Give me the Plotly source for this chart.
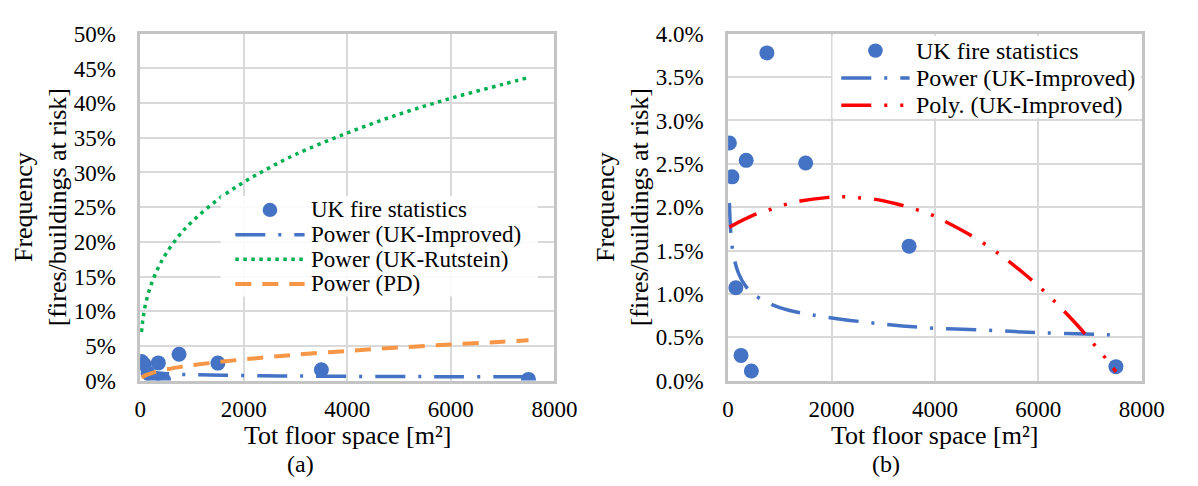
import plotly.graph_objects as go

# ---- observed fire statistics (total floor space in m², frequency as fraction) ----
floor_space = [25, 75, 150, 250, 350, 450, 750, 1500, 3500, 7500]
fire_freq = [0.0274, 0.0235, 0.0107, 0.0029, 0.0254, 0.0011, 0.0378, 0.0251, 0.0155, 0.0016]

# ---- trendline samples ----
# Power (UK-Improved)
improved_x = [25, 50, 100, 200, 350, 500, 1000, 1600, 2700, 3800, 5000, 6100, 7300, 7500]
improved_y = [0.0205, 0.0172, 0.0146, 0.0124, 0.0108, 0.0099, 0.0084, 0.0076,
              0.0067, 0.0061, 0.0058, 0.0055, 0.0053, 0.0052]

# Power (UK-Rutstein)
rutstein_x = [25, 50, 100, 200, 350, 500, 750, 1000, 1500, 2000, 2500, 3000,
              4000, 5000, 6000, 7000, 7500]
rutstein_y = [0.070, 0.087, 0.109, 0.136, 0.163, 0.183, 0.209, 0.229, 0.261, 0.286,
              0.307, 0.326, 0.357, 0.384, 0.407, 0.427, 0.437]

# Power (PD)
pd_x = [25, 100, 250, 500, 750, 1000, 1500, 2000, 2500, 3000, 4000, 5000, 6000, 7000, 7500]
pd_y = [0.0040, 0.0075, 0.0115, 0.0160, 0.0193, 0.0220, 0.0266, 0.0305, 0.0340,
        0.0372, 0.0427, 0.0476, 0.0520, 0.0560, 0.0580]

# Poly. (UK-Improved)
poly_x = [25, 500, 800, 1100, 1400, 1900, 2200, 2500, 2850, 3250, 3600, 3900, 4150,
          4650, 5100, 5350, 5750, 6000, 6200, 6400, 6750, 7000, 7200, 7350, 7500]
poly_y = [0.0177, 0.0191, 0.0197, 0.0203, 0.0207, 0.0211, 0.0212, 0.0211, 0.0209,
          0.0204, 0.0198, 0.0192, 0.0185, 0.0169, 0.0152, 0.0141, 0.0122, 0.0109,
          0.0098, 0.0086, 0.0064, 0.0047, 0.0033, 0.0022, 0.0010]

x_ticks = [0, 2000, 4000, 6000, 8000]

# series labels for each panel's key
labels_a = ["UK fire statistics", "Power (UK-Improved)", "Power (UK-Rutstein)", "Power (PD)"]
labels_b = ["UK fire statistics", "Power (UK-Improved)", "Poly. (UK-Improved)"]

BLUE = "#4472C4"
GREEN = "#00B050"
ORANGE = "#F79646"
RED = "#FF0000"
FONT = "Liberation Serif"
GRID = "#d9d9d9"
FRAME = "#c4c4c4"

W, H = 1198, 486

# line styles shared by the curves and the key samples
STYLE_MARK = dict(color=BLUE, size=15)
STYLE_IMPROVED = dict(color=BLUE, width=3.5, dash="30px,13px,3px,13px")
STYLE_RUTSTEIN = dict(color=GREEN, width=3.5, dash="3.5px,4.5px")
STYLE_PD = dict(color=ORANGE, width=4, dash="16px,11px")
STYLE_POLY = dict(color=RED, width=3.5, dash="30px,13px,3px,13px,3px,13px")

fig = go.Figure()

# ---------- panel (a) ----------
fig.add_trace(go.Scatter(x=floor_space, y=fire_freq, mode="markers", name=labels_a[0],
                         marker=STYLE_MARK, xaxis="x", yaxis="y"))
fig.add_trace(go.Scatter(x=improved_x, y=improved_y, mode="lines", name=labels_a[1],
                         line=dict(shape="spline", **STYLE_IMPROVED), xaxis="x", yaxis="y"))
fig.add_trace(go.Scatter(x=rutstein_x, y=rutstein_y, mode="lines", name=labels_a[2],
                         line=dict(shape="spline", **STYLE_RUTSTEIN), xaxis="x", yaxis="y"))
fig.add_trace(go.Scatter(x=pd_x, y=pd_y, mode="lines", name=labels_a[3],
                         line=dict(shape="spline", **STYLE_PD), xaxis="x", yaxis="y"))

# ---------- panel (b) ----------
fig.add_trace(go.Scatter(x=floor_space, y=fire_freq, mode="markers", name=labels_b[0],
                         marker=STYLE_MARK, xaxis="x2", yaxis="y2"))
fig.add_trace(go.Scatter(x=improved_x, y=improved_y, mode="lines", name=labels_b[1],
                         line=dict(shape="spline", **STYLE_IMPROVED), xaxis="x2", yaxis="y2"))
fig.add_trace(go.Scatter(x=poly_x, y=poly_y, mode="lines", name=labels_b[2],
                         line=dict(shape="spline", **STYLE_POLY), xaxis="x2", yaxis="y2"))

tick_font = dict(family=FONT, size=23, color="black")
title_font = dict(family=FONT, size=26, color="black")

common_x = dict(range=[0, 8000], tickvals=x_ticks, tickformat="d", showgrid=True,
                gridcolor=GRID, gridwidth=2, zeroline=False, showline=True, mirror=True,
                linecolor=FRAME, linewidth=2.5, ticks="", ticklabelstandoff=6,
                tickfont=tick_font, fixedrange=True)
common_y = dict(showgrid=True, gridcolor=GRID, gridwidth=2, zeroline=False,
                showline=True, mirror=True, linecolor=FRAME, linewidth=2.5, ticks="",
                ticklabelstandoff=17, tickfont=tick_font, fixedrange=True,
                title=dict(text="Frequency<br>[fires/buildings at risk]", font=title_font,
                           standoff=0))

y_dom = [0.2006, 0.9527]


# ---------- hand-drawn keys (paper coordinates from pixel positions) ----------
def px(x):
    return x / W


def py(y):
    return (H - y) / H


shapes = []
annotations = []


def add_key(box, rows, labels, samples, sym_x0, sym_x1, text_x, bg, text_size):
    bx0, by0, bx1, by1 = box
    shapes.append(dict(type="rect", xref="paper", yref="paper", layer="above",
                       x0=px(bx0), x1=px(bx1), y0=py(by1), y1=py(by0),
                       fillcolor=bg, line=dict(width=0)))
    for row_y, label, sample in zip(rows, labels, samples):
        if sample is None:
            cx = (sym_x0 + sym_x1) / 2
            r = STYLE_MARK["size"] / 2
            shapes.append(dict(type="circle", xref="paper", yref="paper", layer="above",
                               x0=px(cx - r), x1=px(cx + r), y0=py(row_y + r), y1=py(row_y - r),
                               fillcolor=STYLE_MARK["color"], line=dict(width=0)))
        else:
            shapes.append(dict(type="line", xref="paper", yref="paper", layer="above",
                               x0=px(sym_x0), x1=px(sym_x1), y0=py(row_y), y1=py(row_y),
                               line=sample))
        annotations.append(dict(text=label, xref="paper", yref="paper",
                                x=px(text_x), y=py(row_y), xanchor="left", yanchor="middle",
                                showarrow=False,
                                font=dict(family=FONT, size=text_size, color="black")))


add_key((220, 194, 545, 300), [208.7, 234.7, 260.7, 286.7], labels_a,
        [None, STYLE_IMPROVED, STYLE_RUTSTEIN, STYLE_PD], 235, 306, 311,
        "rgba(255,255,255,0.88)", 23)
add_key((847, 25, 1163, 112), [40.7, 69.5, 98.3], labels_b,
        [None, STYLE_IMPROVED, STYLE_POLY], 856, 926, 931, "white", 24)

# x-axis titles and panel captions, centred under each plot area
for axis_ref, caption, cap_x in (("x", "(a)", 301.7), ("x2", "(b)", 901.7)):
    annotations.append(dict(text="Tot floor space [m²]",
                            xref=axis_ref + " domain", yref="paper", x=0.5, y=py(446),
                            xanchor="center", yanchor="middle", showarrow=False,
                            font=title_font))
    annotations.append(dict(text=caption, x=px(cap_x), y=py(477), xref="paper",
                            yref="paper", xanchor="center", yanchor="middle",
                            showarrow=False, font=dict(family=FONT, size=24, color="black")))

fig.update_layout(
    width=W, height=H,
    margin=dict(l=0, r=0, t=0, b=0),
    paper_bgcolor="white", plot_bgcolor="white",
    font=dict(family=FONT, color="black"),
    showlegend=False,
    xaxis=dict(domain=[0.1148, 0.4691], anchor="y", **common_x),
    yaxis=dict(domain=y_dom, anchor="x", range=[0, 0.5], dtick=0.05, tickformat=".0%",
               **common_y),
    xaxis2=dict(domain=[0.6177, 0.9716], anchor="y2", **common_x),
    yaxis2=dict(domain=y_dom, anchor="x2", range=[0, 0.04], dtick=0.005, tickformat=".1%",
                **common_y),
    shapes=shapes,
    annotations=annotations,
)

fig.write_html("out.html")
